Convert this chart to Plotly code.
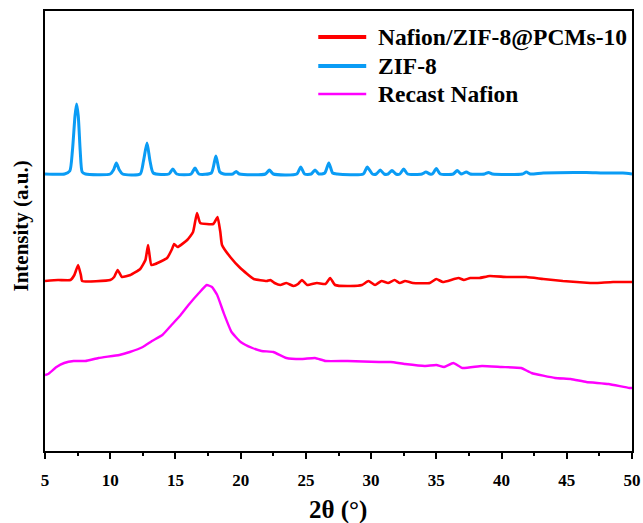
import plotly.graph_objects as go

# ---- data (2θ in degrees, intensity in arbitrary units with vertical offsets) ----
zif8_x = [5.0, 6.5, 6.9, 7.1, 7.3, 7.42, 7.55, 7.7, 7.85, 8.1, 10.0, 10.25, 10.47, 10.7, 10.95,
          12.3, 12.55, 12.82, 13.05, 13.3, 14.5, 14.8, 15.1, 16.2, 16.5, 16.8, 17.75, 18.1, 18.4,
          18.7, 19.4, 19.66, 19.9, 21.9, 22.2, 22.5, 24.3, 24.6, 24.9, 25.4, 25.7, 26.0, 26.45,
          26.76, 27.05, 27.4, 29.4, 29.7, 30.1, 30.4, 30.7, 31.0, 31.3, 31.6, 31.9, 32.2, 32.5,
          32.8, 33.9, 34.2, 34.5, 34.7, 35.0, 35.3, 36.3, 36.6, 36.9, 37.3, 37.6, 38.7, 39.0,
          39.3, 41.6, 41.9, 42.2, 43.2, 46.5, 47.8, 49.3, 50.0]
zif8_y = [277, 277, 280, 300, 335, 347, 335, 300, 279, 277, 277, 281, 288, 281, 277,
          277, 290, 308, 290, 278, 277, 282, 277, 277, 283, 277, 278, 295, 279,
          277, 277, 279.5, 277, 277, 281, 277, 277, 284, 277, 277, 281, 277, 278,
          288, 278, 277, 277, 284, 277, 277, 281, 277, 277, 280.5, 277, 277, 282,
          277, 277, 279, 277, 277, 282.5, 277, 277, 280.5, 277, 279, 277, 277, 278.5,
          277, 277, 279, 277, 278, 278.5, 278, 278, 277]

comp_x = [5.0, 6.0, 6.95, 7.25, 7.54, 7.75, 7.85, 10.0, 10.3, 10.57, 10.9, 11.55, 12.3, 12.7,
          12.9, 13.15, 13.46, 14.36, 14.74, 14.9, 15.17, 15.9, 16.35, 16.65, 16.9, 17.9, 18.23,
          18.44, 18.57, 19.2, 19.97, 21.0, 22.0, 22.27, 22.6, 23.04, 23.5, 24.05, 24.4, 24.7,
          25.1, 25.84, 26.5, 26.86, 27.24, 28.4, 29.3, 29.8, 30.3, 30.8, 31.3, 31.8, 32.2, 32.6,
          33.2, 34.5, 35.0, 35.5, 36.7, 37.1, 37.6, 38.3, 39.1, 40.4, 41.9, 43.2, 44.7, 46.8,
          47.3, 48.55, 49.8, 50.0]
comp_y = [170, 171, 171, 176, 186, 176, 170, 171, 174, 181, 174, 176, 182, 191,
          206, 186, 187, 193, 202, 207, 204, 211, 219, 238, 228, 227, 234,
          219, 206, 194, 183, 172, 170, 171, 168, 166, 168, 165, 167, 171,
          166, 168, 167, 173, 166, 165, 166, 170, 166, 170, 168, 171, 168, 170,
          168, 168, 172, 169, 173, 171, 173, 173, 175, 174, 174, 172, 170, 168,
          168, 169, 169, 169]

recast_x = [5.0, 5.24, 5.88, 6.47, 7.2, 8.09, 9.1, 10.7, 11.5, 12.5, 13.2, 14.0, 14.7, 15.4,
            16.0, 16.8, 17.4, 17.8, 18.2, 18.7, 19.3, 20.0, 20.9, 21.6, 22.5, 23.5, 24.7, 25.7,
            26.5, 28.2, 30.6, 31.5, 32.6, 34.1, 35.0, 35.6, 36.3, 37.0, 38.5, 40.0, 41.5, 42.3,
            44.1, 45.3, 46.5, 48.2, 49.8, 50.0]
recast_y = [76, 77, 84, 88, 90, 90, 93, 96, 99, 104, 110, 116, 126, 136,
            146, 158, 166, 164, 156, 138, 119, 109, 103, 100, 99, 93, 92, 93,
            90, 90, 89, 89, 87, 85, 86, 84, 88, 83, 85, 84, 83, 78,
            73, 72, 69, 67, 63, 63]

x_ticks = [5, 10, 15, 20, 25, 30, 35, 40, 45, 50]

series_names = ["Nafion/ZIF-8@PCMs-10", "ZIF-8", "Recast Nafion"]
series_colors = ["#FF0000", "#0A9CF5", "#FF00FF"]

x_title = "2θ (°)"
y_title = "Intensity (a.u.)"

FONT = "Liberation Serif, Times New Roman, serif"

# plot-area geometry (pixels) used to place the hand-drawn legend and titles
W, H = 643, 523
ML, MR, MT, MB = 44.5, 11, 11, 72
PW, PH = W - ML - MR, H - MT - MB


def px_x(p):
    return (p - ML) / PW


def px_y(p):
    return (H - MB - p) / PH


fig = go.Figure()
fig.add_trace(go.Scatter(x=comp_x, y=comp_y, mode="lines", name=series_names[0],
                         line=dict(color=series_colors[0], width=2.6, shape="spline", smoothing=0.4)))
fig.add_trace(go.Scatter(x=zif8_x, y=zif8_y, mode="lines", name=series_names[1],
                         line=dict(color=series_colors[1], width=3, shape="spline", smoothing=0.6)))
fig.add_trace(go.Scatter(x=recast_x, y=recast_y, mode="lines", name=series_names[2],
                         line=dict(color=series_colors[2], width=2.4, shape="spline", smoothing=0.4)))

# legend drawn by hand (longer symbol lines than plotly's native legend allows)
leg_rows = [37, 66, 94]
leg_widths = [4, 4, 2.6]
shapes, annotations = [], []
for name, col, row, lw in zip(series_names, series_colors, leg_rows, leg_widths):
    shapes.append(dict(type="line", xref="paper", yref="paper",
                       x0=px_x(318), x1=px_x(366), y0=px_y(row), y1=px_y(row),
                       line=dict(color=col, width=lw)))
    annotations.append(dict(xref="paper", yref="paper", x=px_x(376), y=px_y(row),
                            xanchor="left", yanchor="middle", showarrow=False,
                            text=f"<b>{name}</b>",
                            font=dict(family=FONT, size=23.5, color="black")))

# axis titles
annotations.append(dict(xref="paper", yref="paper", x=px_x(338), y=px_y(510),
                        xanchor="center", yanchor="middle", showarrow=False,
                        text=f"<b>{x_title}</b>", font=dict(family=FONT, size=25, color="black")))
annotations.append(dict(xref="paper", yref="paper", x=px_x(20), y=px_y(226),
                        xanchor="center", yanchor="middle", showarrow=False, textangle=-90,
                        text=f"<b>{y_title}</b>", font=dict(family=FONT, size=21, color="black")))

fig.update_layout(
    width=W, height=H,
    margin=dict(l=ML, r=MR, t=MT, b=MB),
    paper_bgcolor="white", plot_bgcolor="white",
    font=dict(family=FONT, color="black"),
    showlegend=False,
    shapes=shapes,
    annotations=annotations,
    xaxis=dict(range=[5, 50], tickvals=x_ticks, ticktext=[f"<b>{v}</b>" for v in x_ticks],
               showline=True, linecolor="black", linewidth=2, mirror=True,
               ticks="outside", ticklen=6, tickwidth=2, tickcolor="black",
               minor=dict(dtick=2.5, ticks="outside", ticklen=3, tickwidth=2, tickcolor="black"),
               tickfont=dict(family=FONT, size=17, color="black"), ticklabelstandoff=7,
               showgrid=False, zeroline=False, automargin=False),
    yaxis=dict(range=[0, 440], showticklabels=False, ticks="",
               showline=True, linecolor="black", linewidth=2, mirror=True,
               showgrid=False, zeroline=False, automargin=False),
)

fig.write_html("out.html")
